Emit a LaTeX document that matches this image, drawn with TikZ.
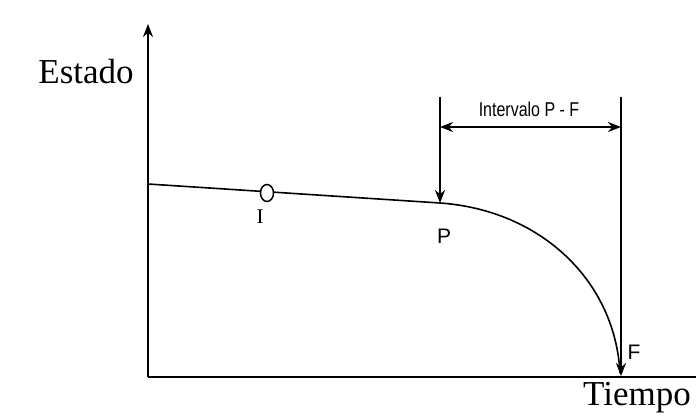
\documentclass[tikz,border=0pt]{standalone}
\usepackage{fontspec}
\setmainfont{Liberation Serif}
\setsansfont{Liberation Sans}
\usetikzlibrary{arrows.meta, positioning, shapes.geometric}

\begin{document}
\begin{tikzpicture}[
  x=1pt, y=-1pt,
  axis/.style={line width=2.2pt},
  pointer/.style={line width=2.2pt, -{Stealth[length=13pt, width=10pt]}},
  curve/.style={line width=1.6pt},
  ttl/.style={font=\fontsize{35}{37}\selectfont},
  lbl/.style={font=\sffamily\fontsize{21}{23}\selectfont},
  span/.style={font=\sffamily\fontsize{20}{22}\selectfont, xscale=0.8}
]
  \useasboundingbox (0,0) rectangle (696,417);

  % axes
  \coordinate (origin) at (148,377);
  \coordinate (ytop)   at (148,24);
  \coordinate (xend)   at (696,377);
  \draw[axis, -{Stealth[length=13pt, width=10pt]}] (origin) -- (ytop);
  \draw[axis] (origin) -- (xend);
  \node[ttl] (estado) at (86,72)  {Estado};
  \node[ttl] (tiempo) at (637,398) {Tiempo};

  % condition curve
  \coordinate (start) at (148,184);
  \coordinate (p)     at (440,203);
  \coordinate (f)     at (620,373);
  \draw[curve] (start) -- (p)
    .. controls (540,210) and (615,280) .. (f);
  \node[ellipse, draw, line width=1.5pt, fill=white,
    minimum width=13pt, minimum height=17pt, inner sep=0pt] (i) at (267,193) {};

  % P and F marks
  \coordinate (ptop) at (440,97);
  \coordinate (ftop) at (621,97);
  \coordinate (fbot) at (621,376);
  \draw[pointer] (ptop) -- (p);
  \draw[pointer] (ftop) -- (fbot);

  % interval
  \coordinate (pl) at (440,127);
  \coordinate (fl) at (621,127);
  \draw[line width=2.2pt, {Stealth[length=13pt, width=10pt]}-{Stealth[length=13pt, width=10pt]}] (pl) -- (fl);
  \node[span] (intervalo) at (529,109) {Intervalo P - F};

  % labels
  \node[font=\fontsize{21}{23}\selectfont] (ilbl) at (260,217) {I};
  \node[lbl] (plbl) at (444,236) {P};
  \node[lbl] (flbl) at (634,352) {F};
\end{tikzpicture}
\end{document}
